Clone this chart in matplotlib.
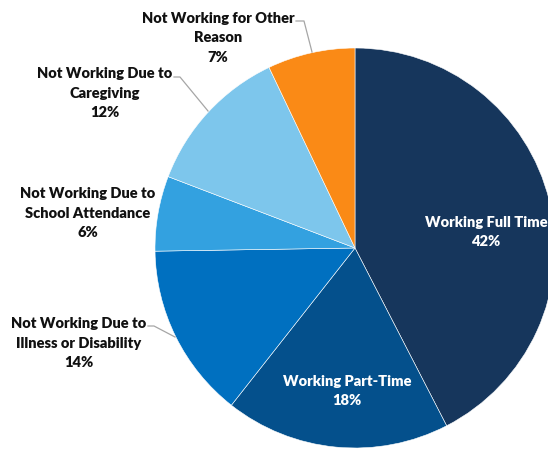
import matplotlib
matplotlib.use("Agg")
import matplotlib.pyplot as plt

categories = ["Working Full Time", "Working Part-Time", "Not Working Due to\nIllness or Disability",
              "Not Working Due to\nSchool Attendance", "Not Working Due to\nCaregiving",
              "Not Working for Other\nReason"]
values = [42, 18, 14, 6, 12, 7]
colors = ["#16365C", "#04508C", "#0070C0", "#33A1E0", "#7DC6EC", "#FA8A16"]

W, H = 548, 449
def Y(py):
    return H - py

fig = plt.figure(figsize=(W / 100, H / 100), dpi=100)
ax = fig.add_axes([0, 0, 1, 1])
cx, cy, r = 355, 248, 200
ax.pie(values, startangle=90, counterclock=False, colors=colors,
       center=(cx, Y(cy)), radius=r,
       wedgeprops=dict(edgecolor="white", linewidth=0.4))
ax.set_xlim(0, W)
ax.set_ylim(0, H)
ax.set_aspect("auto")
ax.axis("off")

font = dict(family=["Lato", "DejaVu Sans"], fontweight="heavy", fontsize=10.5)
ls = 1.55

# label placement (pixel coords of the middle line / centre)
inside = {0: (486, 232), 1: (347, 391)}
outside = {2: (79, 343), 3: (88, 213), 4: (105, 93), 5: (218, 38)}

for i, (x, y) in inside.items():
    ax.text(x, Y(y), f"{categories[i]}\n{values[i]}%", ha="center", va="center",
            color="white", linespacing=ls, **font)
for i, (x, y) in outside.items():
    ax.text(x, Y(y), f"{categories[i]}\n{values[i]}%", ha="center", va="center",
            color="#111111", linespacing=ls, **font)

# leader lines
leaders = [
    [(296, 21), (304, 21), (312, 52)],
    [(174, 77), (180, 77), (208, 111)],
    [(148, 326), (154, 326), (175, 337)],
]
for pts in leaders:
    ax.plot([p[0] for p in pts], [Y(p[1]) for p in pts], color="#A6A6A6", lw=0.9)

fig.savefig("out.png", dpi=100)
